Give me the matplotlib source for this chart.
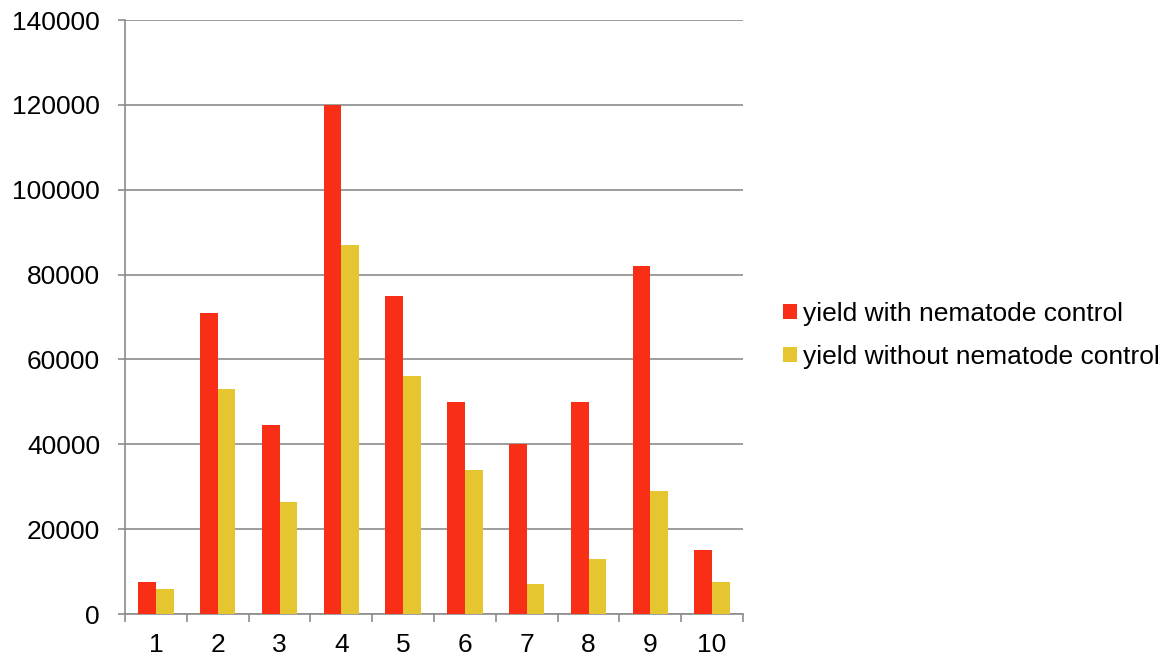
import numpy as np
import matplotlib
matplotlib.use("Agg")
import matplotlib.pyplot as plt
from matplotlib.ticker import FixedLocator, NullFormatter

plt.rcParams["font.family"] = ["Liberation Sans", "DejaVu Sans"]

# ── data ──────────────────────────────────────────────────────
categories = ["1", "2", "3", "4", "5", "6", "7", "8", "9", "10"]
with_control = [7500, 71000, 44500, 120000, 75000, 50000, 40000, 50000, 82000, 15000]
without_control = [5800, 53000, 26300, 87000, 56000, 34000, 7000, 13000, 29000, 7500]
series_names = ["yield with nematode control", "yield without nematode control"]
yticks = [0, 20000, 40000, 60000, 80000, 100000, 120000, 140000]

RED = "#F92E16"
YELLOW = "#E5C630"
GRID = "#8C8C8C"
FS = 19

fig = plt.figure(figsize=(11.67, 6.57), dpi=100)
ax = fig.add_axes([125 / 1167, 43 / 657, 618 / 1167, 594 / 657])

x = np.arange(len(categories))
w = 0.285
ax.bar(x - w / 2, with_control, w, color=RED, label=series_names[0], zorder=3)
ax.bar(x + w / 2, without_control, w, color=YELLOW, label=series_names[1], zorder=3)

ax.set_xlim(-0.5, len(categories) - 0.5)
ax.set_ylim(0, 140000)
ax.set_yticks(yticks)
ax.set_yticklabels([str(v) for v in yticks])
ax.grid(True, axis="y", color=GRID, linewidth=1.2, zorder=0)

# x: labels at centres, tick marks on category boundaries
ax.set_xticks(x)
ax.set_xticklabels(categories)
ax.tick_params(axis="x", which="major", length=0, pad=14, labelsize=FS)
ax.xaxis.set_minor_locator(FixedLocator(np.arange(-0.5, len(categories), 1.0)))
ax.xaxis.set_minor_formatter(NullFormatter())
ax.tick_params(axis="x", which="minor", length=5.5, width=1.2, color=GRID, direction="out")
ax.tick_params(axis="y", length=5, width=1.2, color=GRID, pad=13, labelsize=FS)

for s in ["top", "right"]:
    ax.spines[s].set_visible(False)
for s in ["left", "bottom"]:
    ax.spines[s].set_color(GRID)
    ax.spines[s].set_linewidth(1.2)

fig.legend(loc="center left", bbox_to_anchor=(783 / 1167, 1 - 335.5 / 657),
           frameon=False, fontsize=FS, handlelength=0.53, handleheight=0.53,
           handletextpad=0.23, labelspacing=0.72, borderaxespad=0, borderpad=0)

fig.savefig("out.png", dpi=100)
